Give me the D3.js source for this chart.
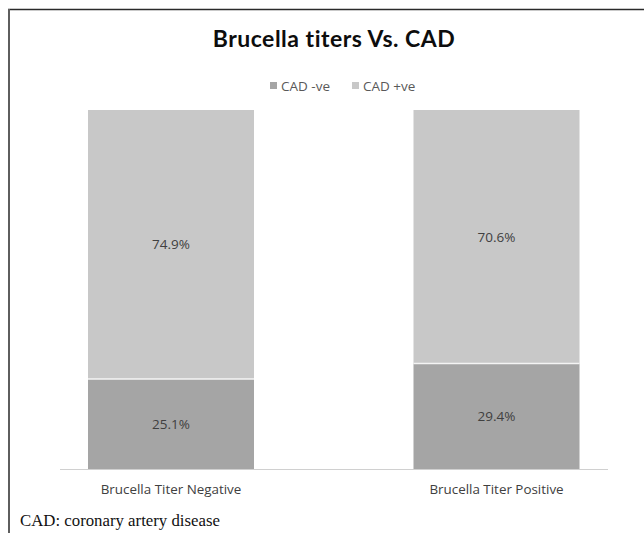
<!DOCTYPE html>
<html>
<head>
<meta charset="utf-8">
<script src="https://cdn.jsdelivr.net/npm/d3@7"></script>
<style>
  body { margin: 0; background: #fff; }
  svg { display: block; }
</style>
</head>
<body>
<div id="chart"></div>
<script>
// chart data
const categories = ['Brucella Titer Negative', 'Brucella Titer Positive'];
const seriesNames = ['CAD -ve', 'CAD +ve'];
const cadNegative = [25.1, 29.4];
const cadPositive = [74.9, 70.6];
const seriesColors = ['#a5a5a5', '#c8c8c8'];

const W = 644, H = 533;

const svg = d3.select('#chart')
    .append('svg')
    .attr('width', W)
    .attr('height', H);

// frame lines (top and left only)
svg.append('line')
    .attr('x1', 8).attr('x2', W)
    .attr('y1', 9.5).attr('y2', 9.5)
    .attr('stroke', '#2a2a2a')
    .attr('stroke-width', 1.6);
svg.append('line')
    .attr('x1', 9).attr('x2', 9)
    .attr('y1', 9).attr('y2', H)
    .attr('stroke', '#5e5e5e')
    .attr('stroke-width', 2);

// title
svg.append('text')
    .attr('x', 334)
    .attr('y', 47)
    .attr('text-anchor', 'middle')
    .style('font-family', 'Lato, "Open Sans", sans-serif')
    .style('font-weight', 'bold')
    .style('font-size', '23px')
    .style('letter-spacing', '0.5px')
    .style('font-variant-ligatures', 'none')
    .attr('fill', '#0d0d0d')
    .text('Brucella titers Vs. CAD');

// scales
const x = d3.scaleBand()
    .domain(categories)
    .range([8.25, 659.25])
    .paddingInner(0.49)
    .paddingOuter(0.245);

const y = d3.scaleLinear()
    .domain([0, 100])
    .range([469, 110]);

// stack the two series
const rows = categories.map((c, i) => ({ cat: c, neg: cadNegative[i], pos: cadPositive[i] }));
const stacked = d3.stack().keys(['neg', 'pos'])(rows);

const layers = svg.selectAll('.layer')
    .data(stacked)
    .enter()
    .append('g')
    .attr('class', 'layer')
    .attr('fill', (d, i) => seriesColors[i]);

layers.selectAll('rect')
    .data(d => d)
    .enter()
    .append('rect')
    .attr('x', d => x(d.data.cat))
    .attr('y', d => y(d[1]))
    .attr('width', x.bandwidth())
    .attr('height', d => y(d[0]) - y(d[1]));

// white separator between segments
svg.selectAll('.sep')
    .data(rows)
    .enter()
    .append('line')
    .attr('class', 'sep')
    .attr('x1', d => x(d.cat))
    .attr('x2', d => x(d.cat) + x.bandwidth())
    .attr('y1', d => y(d.neg))
    .attr('y2', d => y(d.neg))
    .attr('stroke', '#f4f4f4')
    .attr('stroke-width', 1.5);

// value labels
layers.selectAll('.val')
    .data(d => d)
    .enter()
    .append('text')
    .attr('class', 'val')
    .attr('x', d => x(d.data.cat) + x.bandwidth() / 2)
    .attr('y', d => (y(d[0]) + y(d[1])) / 2 + 5)
    .attr('text-anchor', 'middle')
    .attr('fill', '#404040')
    .style('font-family', '"Open Sans", sans-serif')
    .style('font-size', '13.5px')
    .text(d => (d[1] - d[0]).toFixed(1) + '%');

// x axis
const xAxis = svg.append('g')
    .attr('transform', 'translate(0,469)')
    .call(d3.axisBottom(x).tickSize(0).tickPadding(15));
xAxis.select('.domain').remove();
xAxis.append('line')
    .attr('x1', 60).attr('x2', 608)
    .attr('y1', 0.5).attr('y2', 0.5)
    .attr('stroke', '#d0d0d0')
    .attr('stroke-width', 1.2);
xAxis.selectAll('text')
    .attr('fill', '#404040')
    .style('font-family', '"Open Sans", sans-serif')
    .style('font-size', '13.4px');

// legend
const legendX = [270, 352];
const legend = svg.selectAll('.legend')
    .data(seriesNames)
    .enter()
    .append('g')
    .attr('class', 'legend')
    .attr('transform', (d, i) => `translate(${legendX[i]},86)`);
legend.append('rect')
    .attr('x', 0).attr('y', -4)
    .attr('width', 7).attr('height', 7)
    .attr('fill', (d, i) => seriesColors[i]);
legend.append('text')
    .attr('x', 11)
    .attr('y', 4.5)
    .attr('fill', '#595959')
    .style('font-family', '"Open Sans", sans-serif')
    .style('font-size', '13.5px')
    .text(d => d);

// caption
svg.append('text')
    .attr('x', 20)
    .attr('y', 526)
    .attr('fill', '#111')
    .style('font-family', '"Liberation Serif", serif')
    .style('font-size', '16.8px')
    .text('CAD: coronary artery disease');
</script>
</body>
</html>
